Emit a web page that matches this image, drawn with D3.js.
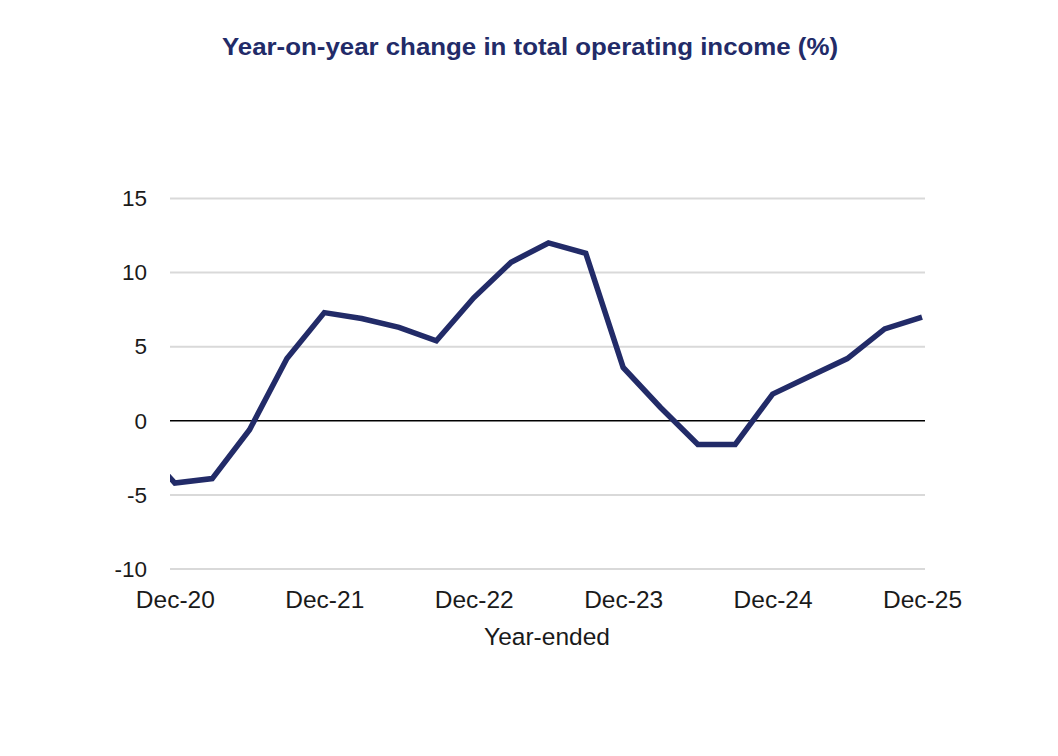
<!DOCTYPE html>
<html>
<head>
<meta charset="utf-8">
<script src="https://cdn.jsdelivr.net/npm/d3@7"></script>
<style>
  body { margin: 0; background: #fff; }
  svg { display: block; font-family: "Liberation Sans", Arial, sans-serif; }
</style>
</head>
<body>
<svg id="chart" width="1058" height="756"></svg>
<script>
// Quarterly, year-ended; first entry (Sep-20) sits just left of the axis and is clipped
const quarters = ["Sep-20",
    "Dec-20", "Mar-21", "Jun-21", "Sep-21", "Dec-21", "Mar-22", "Jun-22", "Sep-22",
    "Dec-22", "Mar-23", "Jun-23", "Sep-23", "Dec-23", "Mar-24", "Jun-24", "Sep-24",
    "Dec-24", "Mar-25", "Jun-25", "Sep-25", "Dec-25"];
const values = [-1.5,
    -4.2, -3.9, -0.6, 4.2, 7.3, 6.9, 6.3, 5.4,
    8.3, 10.7, 12.0, 11.3, 3.6, 0.9, -1.6, -1.6,
    1.8, 3.0, 4.2, 6.2, 7.0];
const xTickLabels = ["Dec-20", "Dec-21", "Dec-22", "Dec-23", "Dec-24", "Dec-25"];
const yTicks = [-10, -5, 0, 5, 10, 15];

const data = quarters.map((q, i) => ({ q: q, i: i - 1, v: values[i] }));

const svg = d3.select("#chart");
const plotLeft = 170, plotRight = 925, plotTop = 198.5, plotBottom = 569;
const navy = "#222b68", ink = "#1a1a1a";

const x = d3.scaleLinear().domain([-0.13, 20.08]).range([plotLeft, plotRight]);
const y = d3.scaleLinear().domain([-10, 15]).range([plotBottom, plotTop]);

// title
svg.append("text")
    .attr("x", 530).attr("y", 54.5)
    .attr("text-anchor", "middle")
    .attr("fill", navy)
    .attr("font-size", 24)
    .attr("font-weight", "bold")
    .attr("textLength", 616)
    .attr("lengthAdjust", "spacingAndGlyphs")
    .text("Year-on-year change in total operating income (%)");

// gridlines
svg.append("g").selectAll("line")
    .data(yTicks.filter(d => d !== 0))
    .join("line")
    .attr("x1", plotLeft).attr("x2", plotRight)
    .attr("y1", d => y(d)).attr("y2", d => y(d))
    .attr("stroke", "#d9d9d9")
    .attr("stroke-width", 2);

// y axis labels
const yAxis = svg.append("g")
    .attr("transform", `translate(${plotLeft},0)`)
    .call(d3.axisLeft(y).tickValues(yTicks).tickFormat(d => String(d)).tickSize(0).tickPadding(23));
yAxis.select(".domain").remove();
yAxis.selectAll("text")
    .attr("font-size", 22.5)
    .attr("fill", ink)
    .attr("font-family", "Liberation Sans, Arial, sans-serif");

// zero line
svg.append("line")
    .attr("x1", plotLeft).attr("x2", plotRight)
    .attr("y1", y(0)).attr("y2", y(0))
    .attr("stroke", "#000")
    .attr("stroke-width", 1.6);

// x axis labels (one per December)
const xAxis = svg.append("g")
    .attr("transform", `translate(0,${plotBottom})`)
    .call(d3.axisBottom(x)
        .tickValues(xTickLabels.map((d, k) => k * 4))
        .tickFormat((d, k) => xTickLabels[k])
        .tickSize(0));
xAxis.select(".domain").remove();
xAxis.selectAll("text")
    .attr("y", 39).attr("dy", 0)
    .attr("font-size", 24.5)
    .attr("fill", ink)
    .attr("font-family", "Liberation Sans, Arial, sans-serif");

svg.append("text")
    .attr("x", 547).attr("y", 645)
    .attr("text-anchor", "middle")
    .attr("font-size", 24.5)
    .attr("fill", ink)
    .text("Year-ended");

// series line, clipped to the plot's x-range
svg.append("clipPath").attr("id", "plotclip")
    .append("rect")
    .attr("x", plotLeft).attr("y", 0)
    .attr("width", plotRight - plotLeft + 10).attr("height", 756);

const line = d3.line()
    .x(d => x(d.i))
    .y(d => y(d.v));

svg.append("path")
    .datum(data)
    .attr("clip-path", "url(#plotclip)")
    .attr("fill", "none")
    .attr("stroke", navy)
    .attr("stroke-width", 5.5)
    .attr("stroke-linejoin", "miter")
    .attr("d", line);
</script>
</body>
</html>
